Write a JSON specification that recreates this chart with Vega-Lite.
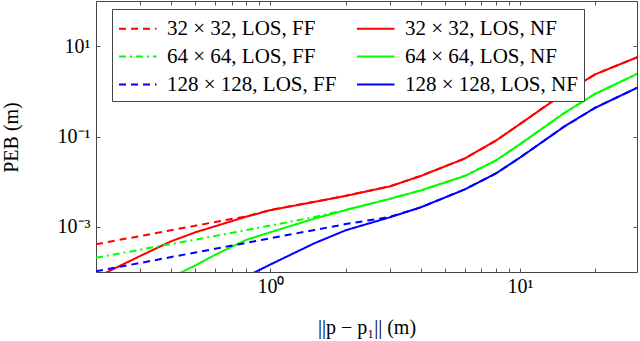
{
  "$schema": "https://vega.github.io/schema/vega-lite/v6.json",
  "autosize": "none",
  "padding": {"left": 96, "top": 1, "right": 3, "bottom": 69},
  "width": 541,
  "height": 271,
  "config": {
    "view": {"stroke": "#444", "strokeWidth": 1},
    "axis": {"grid": false, "domain": false, "labelFont": "Liberation Serif", "labelFontSize": 20, "labelColor": "#000", "titleFont": "Liberation Serif", "titleFontSize": 20, "titleFontWeight": "normal", "titleColor": "#000", "tickColor": "#555", "tickSize": -4, "labelFlush": false, "labelOverlap": false}
  },
  "datasets": {
    "peb": [
      {"d": 0.2, "peb": 7.54e-5, "s": "32 × 32, LOS, NF"},
      {"d": 0.3, "peb": 2.25e-4, "s": "32 × 32, LOS, NF"},
      {"d": 0.4, "peb": 4.79e-4, "s": "32 × 32, LOS, NF"},
      {"d": 0.5, "peb": 7.57e-4, "s": "32 × 32, LOS, NF"},
      {"d": 0.6, "peb": 1.03e-3, "s": "32 × 32, LOS, NF"},
      {"d": 0.8, "peb": 1.68e-3, "s": "32 × 32, LOS, NF"},
      {"d": 1, "peb": 2.34e-3, "s": "32 × 32, LOS, NF"},
      {"d": 1.5, "peb": 3.57e-3, "s": "32 × 32, LOS, NF"},
      {"d": 2, "peb": 4.84e-3, "s": "32 × 32, LOS, NF"},
      {"d": 3, "peb": 7.83e-3, "s": "32 × 32, LOS, NF"},
      {"d": 4, "peb": 1.335e-2, "s": "32 × 32, LOS, NF"},
      {"d": 6, "peb": 3.25e-2, "s": "32 × 32, LOS, NF"},
      {"d": 8, "peb": 8.1e-2, "s": "32 × 32, LOS, NF"},
      {"d": 10, "peb": 0.19, "s": "32 × 32, LOS, NF"},
      {"d": 15, "peb": 0.905, "s": "32 × 32, LOS, NF"},
      {"d": 20, "peb": 2.38, "s": "32 × 32, LOS, NF"},
      {"d": 30, "peb": 5.93, "s": "32 × 32, LOS, NF"},

      {"d": 0.2, "peb": 1.15e-5, "s": "64 × 64, LOS, NF"},
      {"d": 0.3, "peb": 3.43e-5, "s": "64 × 64, LOS, NF"},
      {"d": 0.4, "peb": 7.58e-5, "s": "64 × 64, LOS, NF"},
      {"d": 0.5, "peb": 1.40e-4, "s": "64 × 64, LOS, NF"},
      {"d": 0.6, "peb": 2.40e-4, "s": "64 × 64, LOS, NF"},
      {"d": 0.8, "peb": 5.15e-4, "s": "64 × 64, LOS, NF"},
      {"d": 1, "peb": 7.61e-4, "s": "64 × 64, LOS, NF"},
      {"d": 1.5, "peb": 1.52e-3, "s": "64 × 64, LOS, NF"},
      {"d": 2, "peb": 2.34e-3, "s": "64 × 64, LOS, NF"},
      {"d": 3, "peb": 4.15e-3, "s": "64 × 64, LOS, NF"},
      {"d": 4, "peb": 6.39e-3, "s": "64 × 64, LOS, NF"},
      {"d": 6, "peb": 1.335e-2, "s": "64 × 64, LOS, NF"},
      {"d": 8, "peb": 2.94e-2, "s": "64 × 64, LOS, NF"},
      {"d": 10, "peb": 6.78e-2, "s": "64 × 64, LOS, NF"},
      {"d": 15, "peb": 0.328, "s": "64 × 64, LOS, NF"},
      {"d": 20, "peb": 0.882, "s": "64 × 64, LOS, NF"},
      {"d": 30, "peb": 2.56, "s": "64 × 64, LOS, NF"},

      {"d": 0.2, "peb": 1.66e-6, "s": "128 × 128, LOS, NF"},
      {"d": 0.3, "peb": 5.11e-6, "s": "128 × 128, LOS, NF"},
      {"d": 0.4, "peb": 1.15e-5, "s": "128 × 128, LOS, NF"},
      {"d": 0.5, "peb": 2.13e-5, "s": "128 × 128, LOS, NF"},
      {"d": 0.6, "peb": 3.54e-5, "s": "128 × 128, LOS, NF"},
      {"d": 0.8, "peb": 7.90e-5, "s": "128 × 128, LOS, NF"},
      {"d": 1, "peb": 1.47e-4, "s": "128 × 128, LOS, NF"},
      {"d": 1.5, "peb": 4.33e-4, "s": "128 × 128, LOS, NF"},
      {"d": 2, "peb": 8.38e-4, "s": "128 × 128, LOS, NF"},
      {"d": 3, "peb": 1.62e-3, "s": "128 × 128, LOS, NF"},
      {"d": 4, "peb": 2.70e-3, "s": "128 × 128, LOS, NF"},
      {"d": 6, "peb": 6.73e-3, "s": "128 × 128, LOS, NF"},
      {"d": 8, "peb": 1.52e-2, "s": "128 × 128, LOS, NF"},
      {"d": 10, "peb": 3.42e-2, "s": "128 × 128, LOS, NF"},
      {"d": 15, "peb": 0.165, "s": "128 × 128, LOS, NF"},
      {"d": 20, "peb": 0.433, "s": "128 × 128, LOS, NF"},
      {"d": 30, "peb": 1.26, "s": "128 × 128, LOS, NF"},

      {"d": 0.2, "peb": 4.12e-4, "s": "32 × 32, LOS, FF"},
      {"d": 0.3, "peb": 6.24e-4, "s": "32 × 32, LOS, FF"},
      {"d": 0.4, "peb": 8.42e-4, "s": "32 × 32, LOS, FF"},
      {"d": 0.5, "peb": 1.06e-3, "s": "32 × 32, LOS, FF"},
      {"d": 0.6, "peb": 1.28e-3, "s": "32 × 32, LOS, FF"},
      {"d": 0.8, "peb": 1.70e-3, "s": "32 × 32, LOS, FF"},
      {"d": 1, "peb": 2.36e-3, "s": "32 × 32, LOS, FF"},
      {"d": 1.5, "peb": 3.6e-3, "s": "32 × 32, LOS, FF"},
      {"d": 2, "peb": 4.86e-3, "s": "32 × 32, LOS, FF"},
      {"d": 3, "peb": 7.85e-3, "s": "32 × 32, LOS, FF"},
      {"d": 4, "peb": 1.34e-2, "s": "32 × 32, LOS, FF"},
      {"d": 6, "peb": 3.26e-2, "s": "32 × 32, LOS, FF"},
      {"d": 8, "peb": 8.1e-2, "s": "32 × 32, LOS, FF"},
      {"d": 10, "peb": 0.19, "s": "32 × 32, LOS, FF"},
      {"d": 15, "peb": 0.905, "s": "32 × 32, LOS, FF"},
      {"d": 20, "peb": 2.38, "s": "32 × 32, LOS, FF"},
      {"d": 30, "peb": 5.93, "s": "32 × 32, LOS, FF"},

      {"d": 0.2, "peb": 2.07e-4, "s": "64 × 64, LOS, FF"},
      {"d": 0.3, "peb": 3.11e-4, "s": "64 × 64, LOS, FF"},
      {"d": 0.4, "peb": 4.16e-4, "s": "64 × 64, LOS, FF"},
      {"d": 0.5, "peb": 5.20e-4, "s": "64 × 64, LOS, FF"},
      {"d": 0.6, "peb": 6.27e-4, "s": "64 × 64, LOS, FF"},
      {"d": 0.8, "peb": 8.47e-4, "s": "64 × 64, LOS, FF"},
      {"d": 1, "peb": 1.07e-3, "s": "64 × 64, LOS, FF"},
      {"d": 1.5, "peb": 1.65e-3, "s": "64 × 64, LOS, FF"},
      {"d": 2, "peb": 2.36e-3, "s": "64 × 64, LOS, FF"},
      {"d": 3, "peb": 4.17e-3, "s": "64 × 64, LOS, FF"},
      {"d": 4, "peb": 6.40e-3, "s": "64 × 64, LOS, FF"},
      {"d": 6, "peb": 1.34e-2, "s": "64 × 64, LOS, FF"},
      {"d": 8, "peb": 2.94e-2, "s": "64 × 64, LOS, FF"},
      {"d": 10, "peb": 6.78e-2, "s": "64 × 64, LOS, FF"},
      {"d": 15, "peb": 0.328, "s": "64 × 64, LOS, FF"},
      {"d": 20, "peb": 0.882, "s": "64 × 64, LOS, FF"},
      {"d": 30, "peb": 2.56, "s": "64 × 64, LOS, FF"},

      {"d": 0.2, "peb": 1.04e-4, "s": "128 × 128, LOS, FF"},
      {"d": 0.3, "peb": 1.58e-4, "s": "128 × 128, LOS, FF"},
      {"d": 0.4, "peb": 2.14e-4, "s": "128 × 128, LOS, FF"},
      {"d": 0.5, "peb": 2.70e-4, "s": "128 × 128, LOS, FF"},
      {"d": 0.6, "peb": 3.27e-4, "s": "128 × 128, LOS, FF"},
      {"d": 0.8, "peb": 4.42e-4, "s": "128 × 128, LOS, FF"},
      {"d": 1, "peb": 5.58e-4, "s": "128 × 128, LOS, FF"},
      {"d": 1.5, "peb": 8.51e-4, "s": "128 × 128, LOS, FF"},
      {"d": 2, "peb": 1.15e-3, "s": "128 × 128, LOS, FF"},
      {"d": 3, "peb": 1.65e-3, "s": "128 × 128, LOS, FF"},
      {"d": 4, "peb": 2.71e-3, "s": "128 × 128, LOS, FF"},
      {"d": 6, "peb": 6.75e-3, "s": "128 × 128, LOS, FF"},
      {"d": 8, "peb": 1.52e-2, "s": "128 × 128, LOS, FF"},
      {"d": 10, "peb": 3.42e-2, "s": "128 × 128, LOS, FF"},
      {"d": 15, "peb": 0.165, "s": "128 × 128, LOS, FF"},
      {"d": 20, "peb": 0.433, "s": "128 × 128, LOS, FF"},
      {"d": 30, "peb": 1.26, "s": "128 × 128, LOS, FF"}
    ]
  },
  "data": {"name": "peb"},
  "resolve": {"axis": {"x": "independent", "y": "independent"}},
  "layer": [
    {
      "mark": {"type": "line", "clip": true, "strokeWidth": 2},
      "encoding": {
        "x": {
          "field": "d", "type": "quantitative",
          "scale": {"type": "log", "domain": [0.2, 29.4], "nice": false},
          "axis": {
            "orient": "bottom",
            "values": [0.3, 0.4, 0.5, 0.6, 0.7, 0.8, 0.9, 1, 2, 3, 4, 5, 6, 7, 8, 9, 10, 20],
            "labelExpr": "abs(datum.value - 1) < 1e-6 ? '10⁰' : (abs(datum.value - 10) < 1e-6 ? '10¹' : '')",
            "labelPadding": 8,
            "title": "||p − p₁|| (m)",
            "titleBaseline": "middle",
            "titleY": 55
          }
        },
        "y": {
          "field": "peb", "type": "quantitative",
          "scale": {"type": "log", "domain": [0.0001, 100], "nice": false},
          "axis": {
            "orient": "left",
            "values": [10, 0.1, 0.001],
            "labelExpr": "datum.value > 5 ? '10¹' : (datum.value > 0.05 ? '10⁻¹' : '10⁻³')",
            "labelPadding": 10,
            "title": "PEB (m)",
            "titleAngle": -90,
            "titleBaseline": "middle",
            "titleX": -85,
            "titleY": 136
          }
        },
        "color": {
          "field": "s", "type": "nominal",
          "scale": {
            "domain": ["32 × 32, LOS, FF", "64 × 64, LOS, FF", "128 × 128, LOS, FF", "32 × 32, LOS, NF", "64 × 64, LOS, NF", "128 × 128, LOS, NF"],
            "range": ["#ff0000", "#00ff00", "#0000ff", "#ff0000", "#00ff00", "#0000ff"]
          },
          "legend": {
            "title": null,
            "orient": "none",
            "legendX": 16,
            "legendY": 8,
            "columns": 2,
            "symbolType": "M-1,0L2,0",
            "symbolSize": 625,
            "symbolStrokeWidth": 2,
            "labelOffset": 22,
            "labelFont": "Liberation Serif",
            "labelFontSize": 21,
            "labelColor": "#000",
            "labelLimit": 400,
            "strokeColor": "#444",
            "fillColor": "#ffffff",
            "padding": 6,
            "rowPadding": 4,
            "columnPadding": 16
          }
        },
        "strokeDash": {
          "field": "s", "type": "nominal",
          "scale": {
            "domain": ["32 × 32, LOS, FF", "64 × 64, LOS, FF", "128 × 128, LOS, FF", "32 × 32, LOS, NF", "64 × 64, LOS, NF", "128 × 128, LOS, NF"],
            "range": [[7, 5], [7, 4, 2, 4], [7, 5], [1, 0], [1, 0], [1, 0]]
          },
          "legend": null
        }
      }
    },
    {
      "mark": {"type": "point", "opacity": 0},
      "encoding": {
        "x": {
          "field": "d", "type": "quantitative",
          "scale": {"type": "log", "domain": [0.2, 29.4], "nice": false},
          "axis": {
            "orient": "top",
            "values": [0.3, 0.4, 0.5, 0.6, 0.7, 0.8, 0.9, 1, 2, 3, 4, 5, 6, 7, 8, 9, 10, 20],
            "labels": false,
            "title": null
          }
        },
        "y": {
          "field": "peb", "type": "quantitative",
          "scale": {"type": "log", "domain": [0.0001, 100], "nice": false},
          "axis": {
            "orient": "right",
            "values": [10, 0.1, 0.001],
            "labels": false,
            "title": null
          }
        }
      }
    }
  ]
}
